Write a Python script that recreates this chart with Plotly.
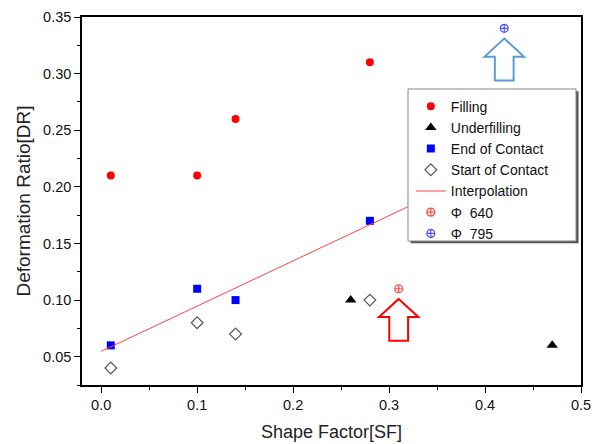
import plotly.graph_objects as go

# ---- data ----
fill_sf = [0.01, 0.10, 0.14, 0.28]
fill_dr = [0.21, 0.21, 0.26, 0.31]
under_sf = [0.26, 0.47]
under_dr = [0.10, 0.06]
end_sf = [0.01, 0.10, 0.14, 0.28]
end_dr = [0.06, 0.11, 0.10, 0.17]
start_sf = [0.01, 0.10, 0.14, 0.28]
start_dr = [0.04, 0.08, 0.07, 0.10]
interp_sf = [0.0, 0.321]
interp_dr = [0.0547, 0.183]
phi640_sf = [0.31]
phi640_dr = [0.11]
phi795_sf = [0.42]
phi795_dr = [0.34]

FONT = "Arial, Liberation Sans, sans-serif"

fig = go.Figure()
fig.add_trace(go.Scatter(x=fill_sf, y=fill_dr, mode="markers", name="Filling",
                         marker=dict(symbol="circle", size=8, color="#ff0000")))
fig.add_trace(go.Scatter(x=under_sf, y=under_dr, mode="markers", name="Underfilling",
                         marker=dict(symbol="triangle-up", size=10, color="#000000")))
fig.add_trace(go.Scatter(x=end_sf, y=end_dr, mode="markers", name="End of Contact",
                         marker=dict(symbol="square", size=8, color="#0000ff")))
fig.add_trace(go.Scatter(x=start_sf, y=start_dr, mode="markers", name="Start of Contact",
                         marker=dict(symbol="diamond-open", size=9, color="#555555",
                                     line=dict(width=1.2, color="#555555"))))
fig.add_trace(go.Scatter(x=interp_sf, y=interp_dr, mode="lines", name="Interpolation",
                         line=dict(color="#ff4444", width=1)))
fig.add_trace(go.Scatter(x=phi640_sf, y=phi640_dr, mode="markers", name="Φ  640",
                         marker=dict(symbol="circle-cross-open", size=8, color="#ff4d4d",
                                     line=dict(width=1.2, color="#ff4d4d"))))
fig.add_trace(go.Scatter(x=phi795_sf, y=phi795_dr, mode="markers", name="Φ  795",
                         marker=dict(symbol="circle-cross-open", size=8, color="#5050ff",
                                     line=dict(width=1.2, color="#5050ff"))))

# arrows under the Φ markers (built relative to the data points)
def arrow_path(x0, y0):
    tip = y0 - 0.009
    base = tip - 0.016
    bottom = tip - 0.037
    hw, sw = 0.0205, 0.0098
    pts = [(x0, tip), (x0 + hw, base), (x0 + sw, base), (x0 + sw, bottom),
           (x0 - sw, bottom), (x0 - sw, base), (x0 - hw, base)]
    return "M " + " L ".join(f"{px},{py}" for px, py in pts) + " Z"

# legend frame (box + shadow), in plot-area fractions
LEG_X0, LEG_X1, LEG_Y0, LEG_Y1 = 0.6533, 0.9900, 0.3913, 0.8043
SH_DX, SH_DY = 0.005, 0.006

shapes = [
    dict(type="path", xref="x", yref="y", path=arrow_path(phi640_sf[0], phi640_dr[0]),
         line=dict(color="#ff0000", width=2), fillcolor="rgba(0,0,0,0)"),
    dict(type="path", xref="x", yref="y", path=arrow_path(phi795_sf[0], phi795_dr[0]),
         line=dict(color="#5b9bd5", width=2), fillcolor="rgba(0,0,0,0)"),
    dict(type="rect", xref="paper", yref="paper", layer="above",
         x0=LEG_X0 + SH_DX, x1=LEG_X1 + SH_DX, y0=LEG_Y0 - SH_DY, y1=LEG_Y1 - SH_DY,
         line=dict(width=0), fillcolor="#555555"),
    dict(type="rect", xref="paper", yref="paper", layer="above",
         x0=LEG_X0, x1=LEG_X1, y0=LEG_Y0, y1=LEG_Y1,
         line=dict(width=1, color="#888888"), fillcolor="white"),
]

axis_common = dict(
    showgrid=False, zeroline=False, showline=True, linecolor="#000000", linewidth=1.5,
    mirror=True, ticks="outside", ticklen=6, tickwidth=1.2, tickcolor="#000000",
    tickfont=dict(family=FONT, size=14.5, color="#111111"),
)

fig.update_layout(
    width=604, height=444,
    margin=dict(l=74, r=31, t=9, b=67, autoexpand=False),
    paper_bgcolor="white", plot_bgcolor="white",
    font=dict(family=FONT, color="#222222"),
    shapes=shapes,
    xaxis=dict(range=[-0.02, 0.5], dtick=0.1, tick0=0, tickformat=".1f",
               minor=dict(dtick=0.05, ticklen=3, ticks="outside", tickcolor="#000000"),
               title=dict(text="Shape Factor[SF]", font=dict(family=FONT, size=18, color="#222222"),
                          standoff=13),
               **axis_common),
    yaxis=dict(range=[0.025, 0.35], dtick=0.05, tick0=0, tickformat=".2f",
               minor=dict(dtick=0.025, ticklen=3, ticks="outside", tickcolor="#000000"),
               title=dict(text="Deformation Ratio[DR]", font=dict(family=FONT, size=19, color="#222222"),
                          standoff=7),
               **axis_common),
    legend=dict(x=0.659, y=0.80, xanchor="left", yanchor="top",
                bgcolor="rgba(0,0,0,0)", borderwidth=0,
                font=dict(family=FONT, size=14, color="#111111")),
    showlegend=True,
)

fig.write_html("out.html")
